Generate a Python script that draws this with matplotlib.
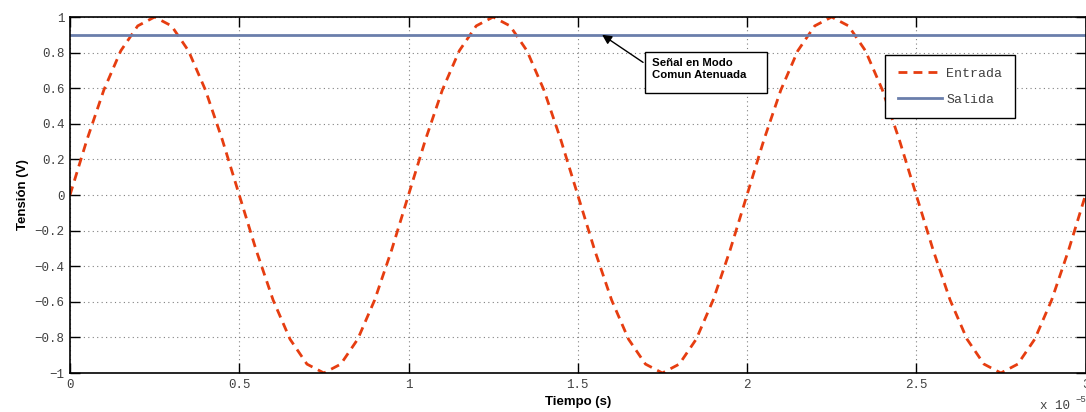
import numpy as np
import matplotlib.pyplot as plt
from matplotlib.patches import Rectangle

# time samples (x 1e-5 s), one every 0.05
tiempo = [0.00, 0.05, 0.10, 0.15, 0.20, 0.25, 0.30, 0.35, 0.40, 0.45,
          0.50, 0.55, 0.60, 0.65, 0.70, 0.75, 0.80, 0.85, 0.90, 0.95,
          1.00, 1.05, 1.10, 1.15, 1.20, 1.25, 1.30, 1.35, 1.40, 1.45,
          1.50, 1.55, 1.60, 1.65, 1.70, 1.75, 1.80, 1.85, 1.90, 1.95,
          2.00, 2.05, 2.10, 2.15, 2.20, 2.25, 2.30, 2.35, 2.40, 2.45,
          2.50, 2.55, 2.60, 2.65, 2.70, 2.75, 2.80, 2.85, 2.90, 2.95,
          3.00]

# input signal (V)
entrada = [0.00, 0.31, 0.59, 0.81, 0.95, 1.00, 0.95, 0.81, 0.59, 0.31,
           0.00, -0.31, -0.59, -0.81, -0.95, -1.00, -0.95, -0.81, -0.59, -0.31,
           0.00, 0.31, 0.59, 0.81, 0.95, 1.00, 0.95, 0.81, 0.59, 0.31,
           0.00, -0.31, -0.59, -0.81, -0.95, -1.00, -0.95, -0.81, -0.59, -0.31,
           0.00, 0.31, 0.59, 0.81, 0.95, 1.00, 0.95, 0.81, 0.59, 0.31,
           0.00, -0.31, -0.59, -0.81, -0.95, -1.00, -0.95, -0.81, -0.59, -0.31,
           0.00]

# output signal (V): attenuated common mode
salida = [0.90] * len(tiempo)

xticks = [0, 0.5, 1, 1.5, 2, 2.5, 3]
yticks = [-1, -0.8, -0.6, -0.4, -0.2, 0, 0.2, 0.4, 0.6, 0.8, 1]

mono = 'Liberation Mono'
sans = 'Liberation Sans'
red = '#e63d10'
blue = '#6a7eab'

fig = plt.figure(figsize=(10.86, 4.12), dpi=100)
ax = fig.add_axes([70 / 1086, 1 - 373 / 412, 1015.5 / 1086, 356 / 412])

ax.plot(tiempo, entrada, color=red, linewidth=2, linestyle=(0, (3.2, 2.2)),
        label='Entrada')
ax.plot(tiempo, salida, color=blue, linewidth=2, label='Salida')

ax.set_xlim(0, 3)
ax.set_ylim(-1, 1)
ax.set_xticks(xticks)
ax.set_yticks(yticks)
ax.set_xticklabels(['0', '0.5', '1', '1.5', '2', '2.5', '3'])
ax.set_yticklabels(['\u22121', '\u22120.8', '\u22120.6', '\u22120.4', '\u22120.2',
                    '0', '0.2', '0.4', '0.6', '0.8', '1'])

ax.grid(True, linestyle=(0, (1, 3)), color='#808080', linewidth=0.8)
ax.tick_params(direction='in', length=7, width=1, top=True, right=True,
               labelsize=9, labelcolor='#404040', pad=4)
for lbl in ax.get_xticklabels() + ax.get_yticklabels():
    lbl.set_family(mono)
for s in ax.spines.values():
    s.set_linewidth(1.2)

ax.set_xlabel('Tiempo (s)', fontsize=9.5, fontweight='bold', family=sans,
              labelpad=4)
ax.set_ylabel('Tensión (V)', fontsize=9.5, fontweight='bold', family=sans,
              labelpad=4)

fig.text(1040 / 1086, 1 - 406 / 412, 'x 10', fontsize=9, family=mono,
         color='#404040', va='center')
fig.text(1076 / 1086, 1 - 399 / 412, '\u22125', fontsize=6.5, family=mono,
         color='#404040', va='center')

# text box with arrow pointing at the output line
ax.add_patch(Rectangle((1.699, 0.573), 0.36, 0.23, facecolor='white',
                       edgecolor='black', linewidth=1, zorder=4))
ax.text(1.72, 0.71, 'Señal en Modo\nComun Atenuada', fontsize=8.2,
        fontweight='bold', family=sans, va='center', ha='left',
        linespacing=1.25, zorder=5)
ax.annotate('', xy=(1.572, 0.9), xytext=(1.693, 0.745),
            arrowprops=dict(arrowstyle='-|>', color='black', lw=1,
                            mutation_scale=14, shrinkA=0, shrinkB=0),
            zorder=5)

leg = ax.legend(loc='upper left', bbox_to_anchor=(815 / 1015.5, 1 - 38 / 356),
                prop={'family': mono, 'size': 9.5}, frameon=True,
                fancybox=False, edgecolor='black', framealpha=1,
                handlelength=3.4, borderpad=0.95, labelspacing=1.05,
                handletextpad=0.3, borderaxespad=0)
leg.get_frame().set_linewidth(1)
for t in leg.get_texts():
    t.set_color('#404040')

fig.savefig('out.png', dpi=100)
